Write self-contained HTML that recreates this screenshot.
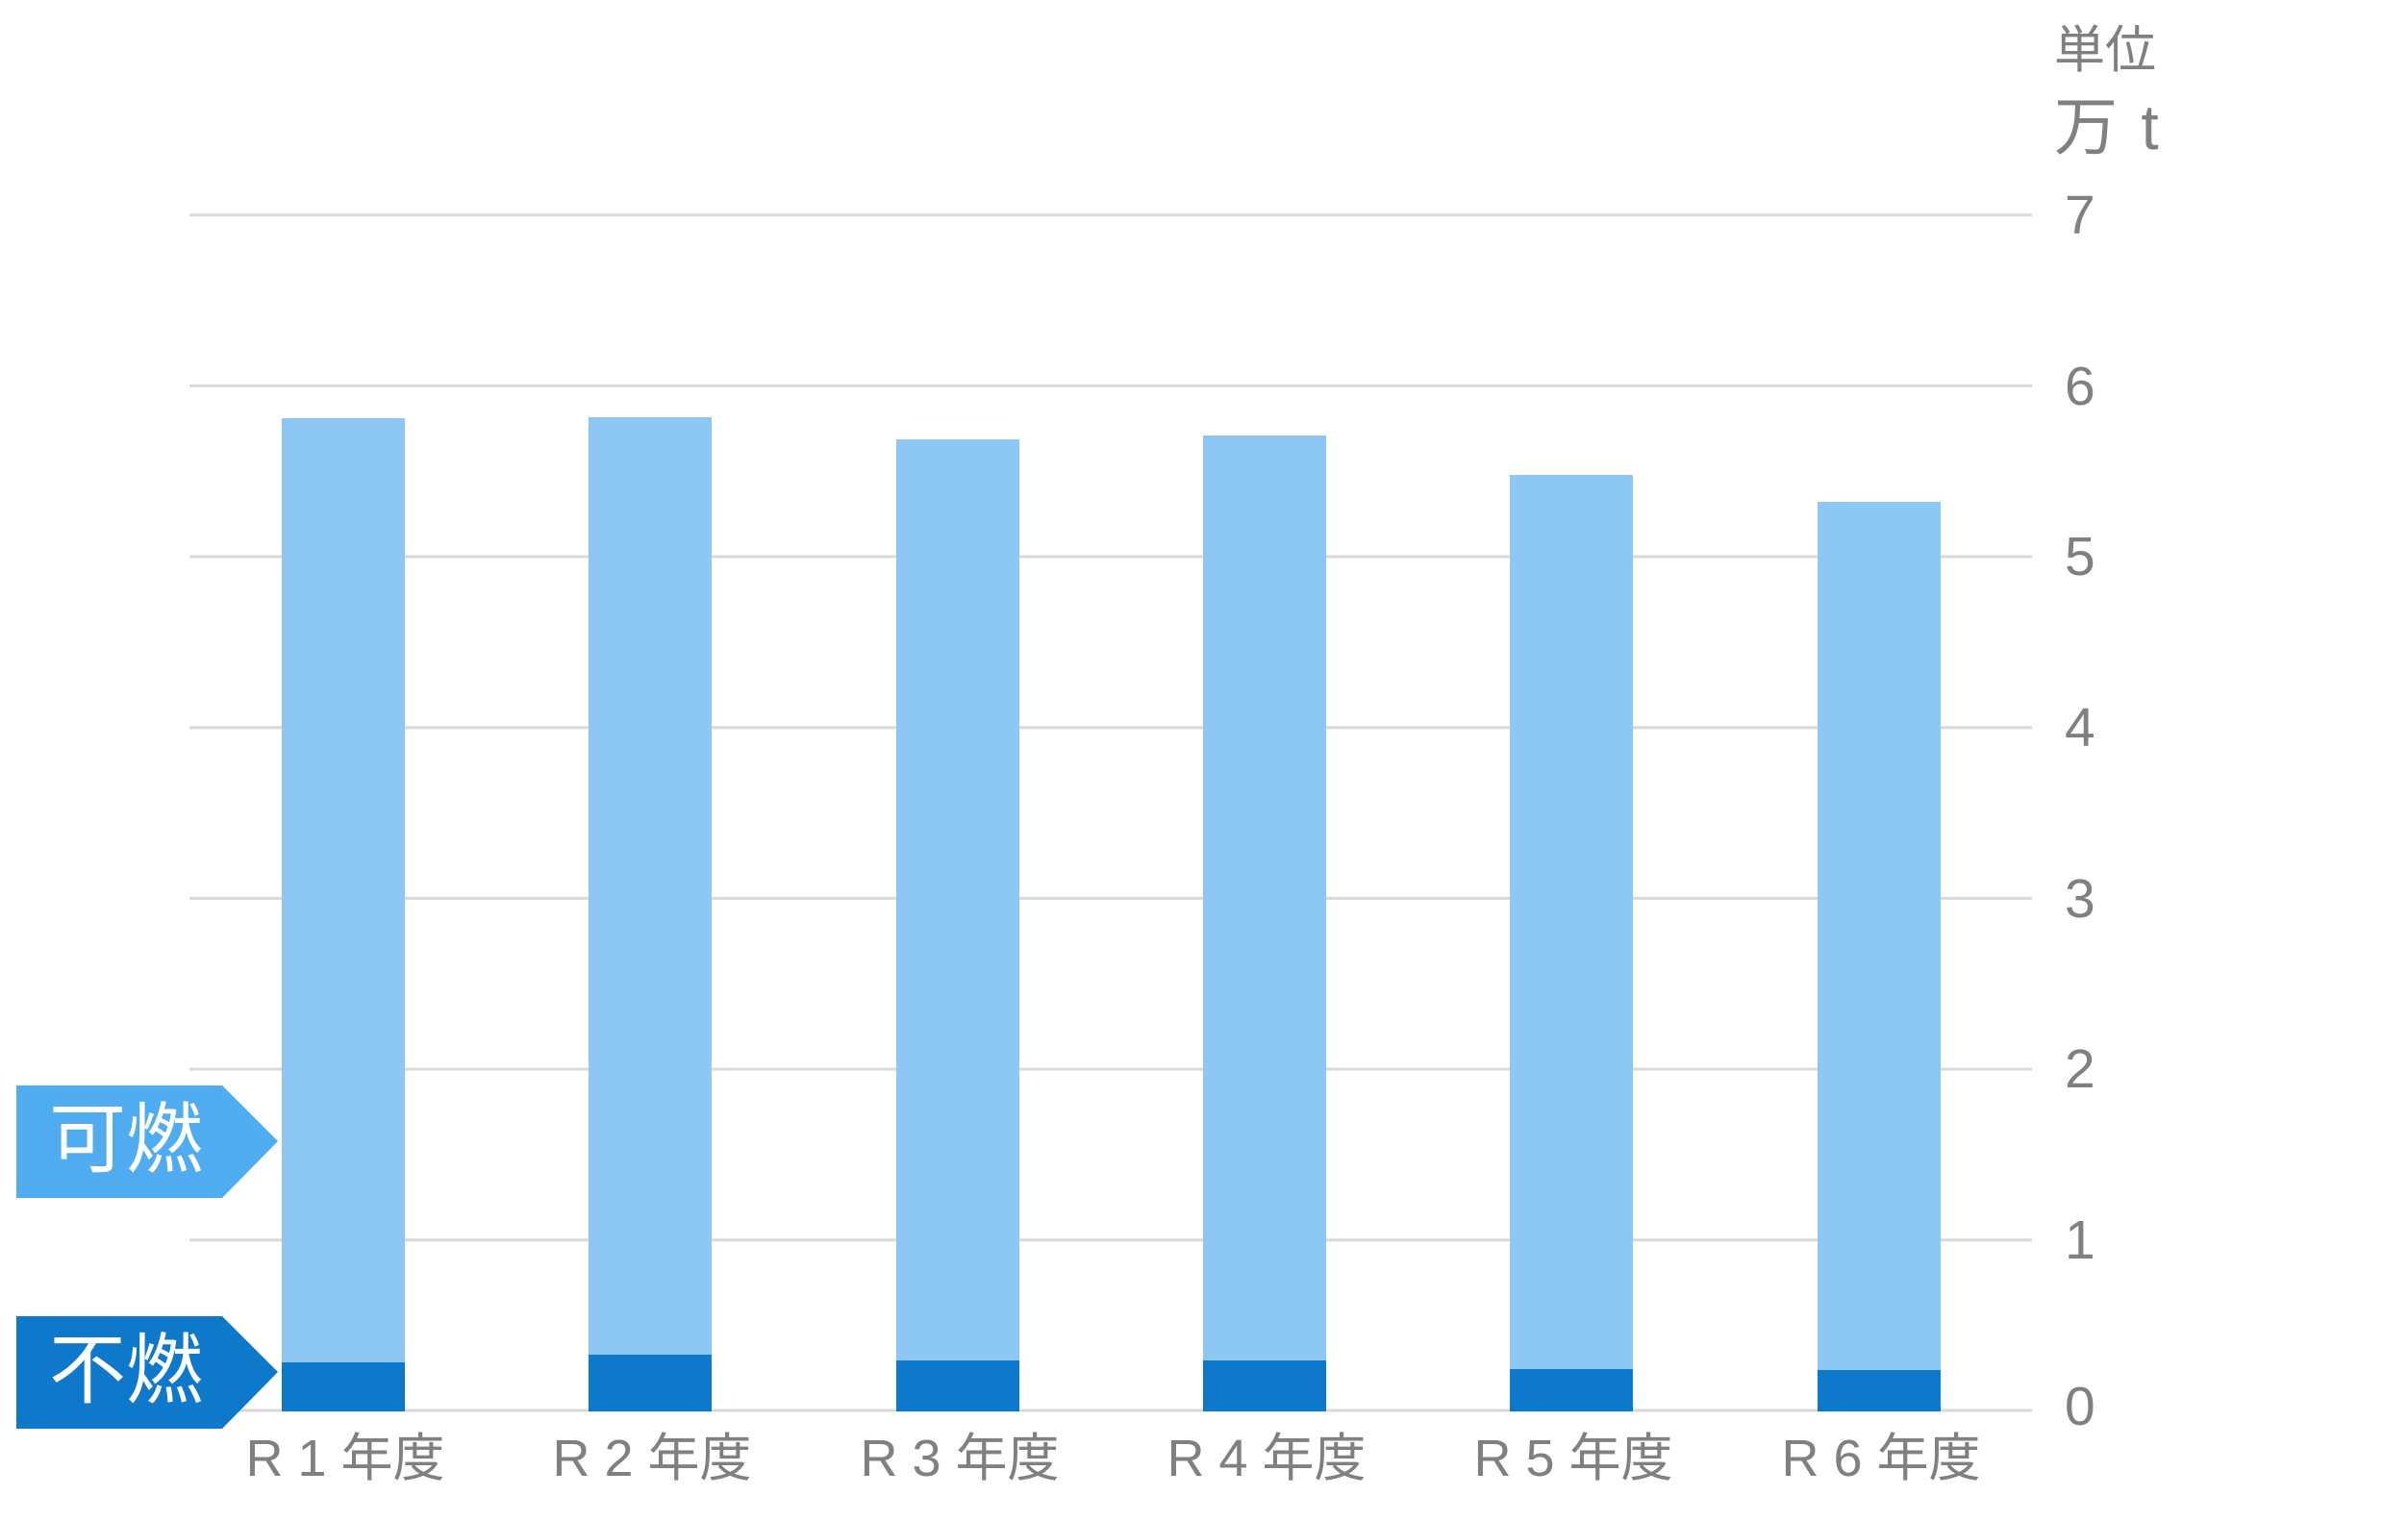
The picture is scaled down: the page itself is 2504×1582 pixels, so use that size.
<!DOCTYPE html>
<html><head><meta charset="utf-8"><style>
html,body{margin:0;padding:0;background:#fff;}
svg{display:block;}
text{font-family:"Liberation Sans","Noto Sans CJK JP",sans-serif;}
</style></head><body>
<svg width="2504" height="1582" viewBox="0 0 2504 1582" xmlns="http://www.w3.org/2000/svg">
<g stroke="#d9d9d9" stroke-width="3">
<line x1="197" y1="223.6" x2="2113" y2="223.6"/>
<line x1="197" y1="401.3" x2="2113" y2="401.3"/>
<line x1="197" y1="579" x2="2113" y2="579"/>
<line x1="197" y1="756.7" x2="2113" y2="756.7"/>
<line x1="197" y1="934.4" x2="2113" y2="934.4"/>
<line x1="197" y1="1112.1" x2="2113" y2="1112.1"/>
<line x1="197" y1="1289.8" x2="2113" y2="1289.8"/>
<line x1="197" y1="1467" x2="2113" y2="1467"/>
</g>
<g fill="#8dc8f5">
<rect x="293" y="435" width="128" height="1033"/>
<rect x="612" y="434" width="128" height="1034"/>
<rect x="932" y="457" width="128" height="1011"/>
<rect x="1251" y="453" width="128" height="1015"/>
<rect x="1570" y="494" width="128" height="974"/>
<rect x="1890" y="522" width="128" height="946"/>
</g>
<g fill="#0e79cb">
<rect x="293" y="1417" width="128" height="51"/>
<rect x="612" y="1409" width="128" height="59"/>
<rect x="932" y="1415" width="128" height="53"/>
<rect x="1251" y="1415" width="128" height="53"/>
<rect x="1570" y="1424" width="128" height="44"/>
<rect x="1890" y="1425" width="128" height="43"/>
</g>
<g fill="#808080" font-size="57">
<text x="2147" y="243">7</text>
<text x="2147" y="421">6</text>
<text x="2147" y="598">5</text>
<text x="2147" y="776">4</text>
<text x="2147" y="954">3</text>
<text x="2147" y="1131">2</text>
<text x="2147" y="1309">1</text>
<text x="2147" y="1482">0</text>
</g>
<g fill="#808080" font-size="54" text-anchor="middle">
<text x="359" y="1535">R 1 年度</text>
<text x="678" y="1535">R 2 年度</text>
<text x="998" y="1535">R 3 年度</text>
<text x="1317" y="1535">R 4 年度</text>
<text x="1636" y="1535">R 5 年度</text>
<text x="1956" y="1535">R 6 年度</text>
</g>
<text x="2136" y="70" fill="#808080" font-size="53">単位</text>
<text x="2136" y="155" fill="#808080" font-size="66" letter-spacing="3">万 t</text>
<polygon points="17,1129 231,1129 289,1187 231,1246 17,1246" fill="#4facf0"/>
<polygon points="17,1369 231,1369 289,1427 231,1486 17,1486" fill="#0e79cb"/>
<text x="51" y="1213" fill="#fff" font-size="80">可燃</text>
<text x="51" y="1453" fill="#fff" font-size="80">不燃</text>
</svg>
</body></html>
